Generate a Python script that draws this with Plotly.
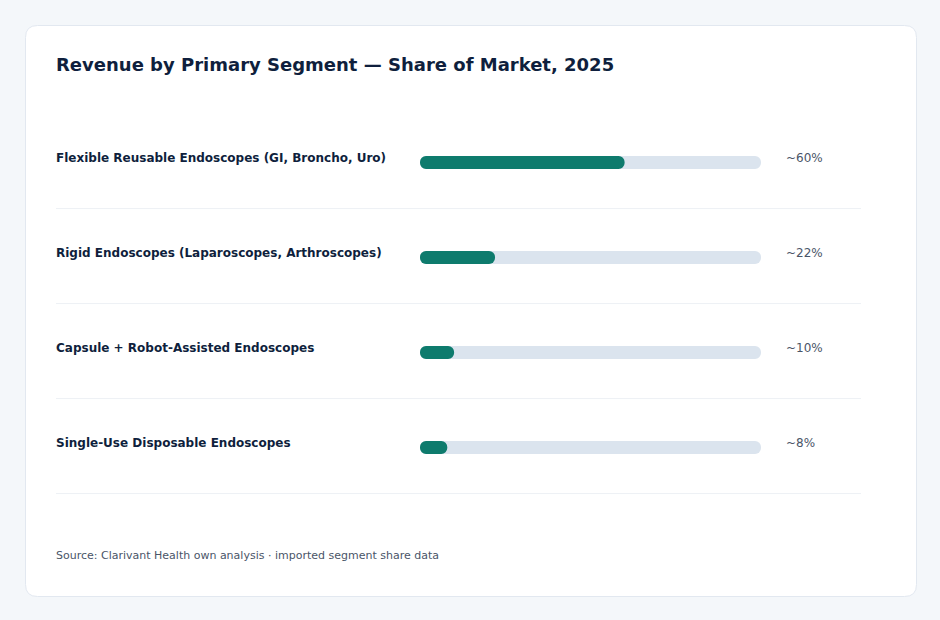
import plotly.graph_objects as go

categories = [
    "Flexible Reusable Endoscopes (GI, Broncho, Uro)",
    "Rigid Endoscopes (Laparoscopes, Arthroscopes)",
    "Capsule + Robot-Assisted Endoscopes",
    "Single-Use Disposable Endoscopes",
]
shares = [60, 22, 10, 8]
value_labels = ["~60%", "~22%", "~10%", "~8%"]
track_max = 100

TITLE = "Revenue by Primary Segment — Share of Market, 2025"
SOURCE = "Source: Clarivant Health own analysis · imported segment share data"

W, H = 940, 620
FONT = "DejaVu Sans"
TEAL = "#0e7b6d"
TRACK = "#dbe4ee"
NAVY = "#0f1f3d"
GREY = "#4a5568"

def px(x):
    return x / W

def py(y):
    return 1 - y / H

ypos = list(range(len(categories)))
BW = 0.137

fig = go.Figure()
fig.add_trace(go.Bar(
    x=[track_max] * len(categories), base=[0] * len(categories), y=ypos,
    orientation="h", marker=dict(color=TRACK, cornerradius=6, line=dict(width=0)),
    width=BW, xaxis="x", yaxis="y", showlegend=False, hoverinfo="skip",
))
fig.add_trace(go.Bar(
    x=shares, base=[0] * len(categories), y=ypos, orientation="h",
    marker=dict(color=TEAL, cornerradius=6, line=dict(width=0)),
    width=BW, xaxis="x2", yaxis="y", showlegend=False,
    hovertemplate="%{x}%<extra></extra>",
))

# card with rounded corners
x0, x1, y0, y1, r = 25.5, 916.5, 25.5, 596.5, 12
path = (
    f"M {px(x0 + r)} {py(y0)} L {px(x1 - r)} {py(y0)} "
    f"Q {px(x1)} {py(y0)} {px(x1)} {py(y0 + r)} "
    f"L {px(x1)} {py(y1 - r)} Q {px(x1)} {py(y1)} {px(x1 - r)} {py(y1)} "
    f"L {px(x0 + r)} {py(y1)} Q {px(x0)} {py(y1)} {px(x0)} {py(y1 - r)} "
    f"L {px(x0)} {py(y0 + r)} Q {px(x0)} {py(y0)} {px(x0 + r)} {py(y0)} Z"
)
shapes = [dict(type="path", path=path, xref="paper", yref="paper",
               fillcolor="white", line=dict(color="#e2e8f0", width=1), layer="below")]
for i in ypos:
    shapes.append(dict(type="line", xref="paper", yref="y",
                       x0=px(56), x1=px(861), y0=i + 0.485, y1=i + 0.485,
                       line=dict(color="#edf1f5", width=1), layer="below"))

annotations = [
    dict(text=f"<b>{TITLE}</b>", xref="paper", yref="paper", x=px(56), y=py(64),
         xanchor="left", yanchor="middle", xshift=-2, showarrow=False,
         font=dict(family=FONT, size=18, color=NAVY)),
    dict(text=SOURCE, xref="paper", yref="paper", x=px(56), y=py(555),
         xanchor="left", yanchor="middle", xshift=-2, showarrow=False,
         font=dict(family=FONT, size=11, color=GREY)),
]
for i, (c, v) in enumerate(zip(categories, value_labels)):
    annotations.append(dict(text=f"<b>{c}</b>", xref="paper", yref="y", x=px(56), y=i,
                            xanchor="left", yanchor="middle", yshift=4.5, xshift=-2,
                            showarrow=False,
                            font=dict(family=FONT, size=12, color=NAVY)))
    annotations.append(dict(text=v, xref="paper", yref="y", x=px(786), y=i,
                            xanchor="left", yanchor="middle", yshift=4.5, xshift=-2,
                            showarrow=False,
                            font=dict(family=FONT, size=12, color=GREY)))

xax = dict(domain=[px(420), px(761)], range=[0, track_max], visible=False, fixedrange=True)
fig.update_layout(
    width=W, height=H, margin=dict(l=0, r=0, t=0, b=0),
    paper_bgcolor="#f4f7fa", plot_bgcolor="rgba(0,0,0,0)",
    barmode="overlay", shapes=shapes, annotations=annotations,
    font=dict(family=FONT),
    xaxis=xax,
    xaxis2=dict(xax, overlaying="x"),
    yaxis=dict(domain=[py(495), py(115)], range=[3.5, -0.5], visible=False,
               fixedrange=True),
)

fig.write_html("out.html")
